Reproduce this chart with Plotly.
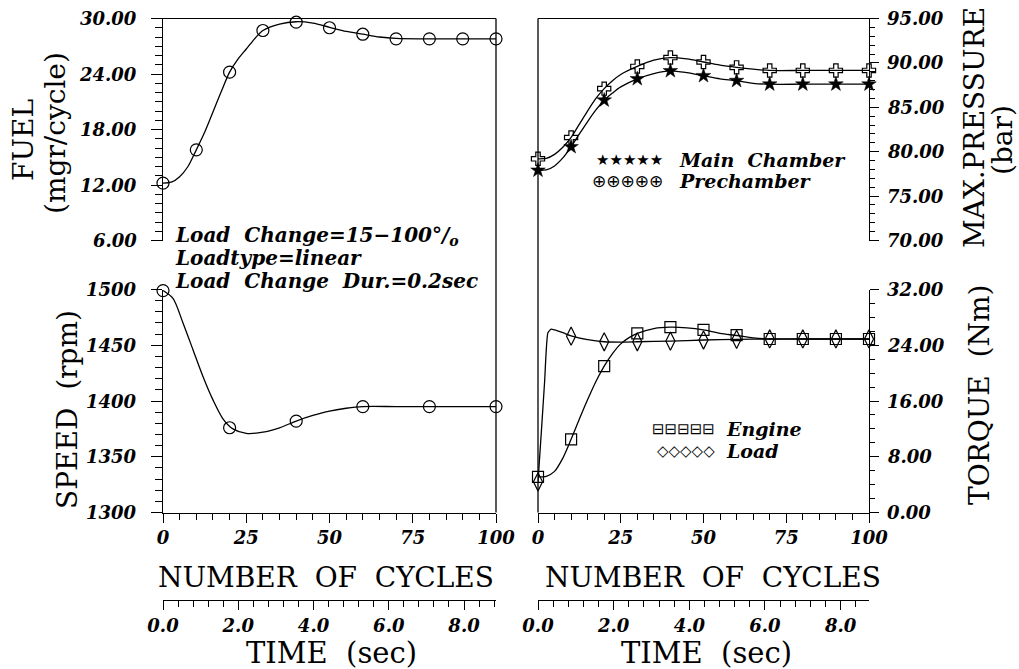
import plotly.graph_objects as go

W, H = 1019, 669

# ---------------- data ----------------
cycles_mark = [0, 10, 20, 30, 40, 50, 60, 70, 80, 90, 100]

fuel_mark = [12.2, 15.8, 24.2, 28.7, 29.6, 29.0, 28.3, 27.8, 27.8, 27.8, 27.8]
fuel_line_x = [0, 2.5, 5, 7.5, 10, 12.5, 15, 17.5, 20, 22.5, 25, 27.5, 30, 35, 40, 45, 50, 55, 60, 65, 70, 80, 90, 100]
fuel_line_y = [12.2, 12.3, 12.9, 14.0, 15.8, 17.7, 19.9, 22.1, 24.2, 25.6, 26.7, 27.8, 28.7, 29.4, 29.65, 29.5, 29.05, 28.6, 28.3, 28.0, 27.85, 27.8, 27.8, 27.8]

speed_mark_x = [0, 20, 40, 60, 80, 100]
speed_mark = [1499, 1376, 1382, 1395, 1395, 1395]
speed_line_x = [0, 3, 6, 9, 12, 15, 18, 21, 25, 30, 35, 40, 45, 50, 55, 60, 70, 80, 90, 100]
speed_line_y = [1499, 1492, 1470, 1446, 1422, 1401, 1384, 1375, 1371, 1372, 1376, 1382, 1387, 1391, 1393.5, 1395, 1395, 1395, 1395, 1395]

main_mark = [77.9, 80.55, 85.8, 88.2, 89.1, 88.55, 88.0, 87.6, 87.6, 87.6, 87.6]
main_line_x = [0, 2.5, 5, 7.5, 10, 12.5, 15, 17.5, 20, 22.5, 25, 30, 35, 40, 45, 50, 55, 60, 65, 70, 80, 90, 100]
main_line_y = [77.9, 77.95, 78.4, 79.3, 80.55, 82.0, 83.4, 84.7, 85.8, 86.6, 87.3, 88.2, 88.8, 89.1, 88.9, 88.55, 88.2, 88.0, 87.7, 87.6, 87.6, 87.6, 87.6]

pre_mark = [79.2, 81.6, 87.1, 89.6, 90.6, 90.1, 89.5, 89.15, 89.15, 89.15, 89.15]
pre_line_x = [0, 2.5, 5, 7.5, 10, 12.5, 15, 17.5, 20, 22.5, 25, 30, 35, 40, 45, 50, 55, 60, 65, 70, 80, 90, 100]
pre_line_y = [79.2, 79.25, 79.7, 80.5, 81.6, 83.1, 84.6, 86.0, 87.1, 88.0, 88.7, 89.6, 90.3, 90.6, 90.45, 90.1, 89.75, 89.5, 89.3, 89.15, 89.15, 89.15, 89.15]

engine_mark = [5.1, 10.5, 21.0, 25.7, 26.6, 26.2, 25.45, 24.9, 24.9, 24.9, 24.9]
engine_line_x = [0, 2.5, 5, 7.5, 10, 12.5, 15, 17.5, 20, 22.5, 25, 27.5, 30, 35, 40, 45, 50, 55, 60, 65, 70, 80, 90, 100]
engine_line_y = [5.1, 5.2, 5.9, 7.8, 10.5, 13.4, 16.2, 18.8, 21.0, 22.8, 24.2, 25.1, 25.7, 26.4, 26.6, 26.5, 26.2, 25.7, 25.4, 25.05, 24.9, 24.9, 24.9, 24.9]

load_mark = [4.4, 25.3, 24.5, 24.5, 24.6, 24.75, 24.85, 24.9, 24.9, 24.9, 24.9]
load_line_x = [0, 1, 2, 3, 4, 5, 7.5, 10, 15, 20, 25, 30, 40, 50, 60, 70, 80, 90, 100]
load_line_y = [4.4, 11.5, 18.8, 25.8, 26.3, 26.2, 25.8, 25.35, 24.8, 24.5, 24.45, 24.5, 24.6, 24.75, 24.85, 24.9, 24.9, 24.9, 24.9]

fuel_ticks = [6, 12, 18, 24, 30]
speed_ticks = [1300, 1350, 1400, 1450, 1500]
pressure_ticks = [70, 75, 80, 85, 90, 95]
torque_ticks = [0, 8, 16, 24, 32]
cycle_ticks = [0, 25, 50, 75, 100]
time_ticks = [0, 2, 4, 6, 8]
time_max_left = 8.85
time_max_right = 8.75

# ---------------- layout helpers ----------------
def fx(p):
    return p / W

def fy(p):
    return 1 - p / H

LX = [fx(163), fx(496)]
RX = [fx(538), fx(869)]
TOPY = [fy(240.5), fy(18.5)]
BOTY = [fy(512.5), fy(289.5)]
TIMEY = [fy(600), fy(598)]

BLACK = "black"
TICKFONT = dict(family="DejaVu Serif", size=18, color=BLACK, style="italic", weight="bold")
LW = 1.3

fig = go.Figure()


def add_line(x, y, xa, ya, smoothing=0.8):
    fig.add_trace(go.Scatter(x=x, y=y, xaxis=xa, yaxis=ya, mode="lines",
                             line=dict(color=BLACK, width=LW, shape="spline", smoothing=smoothing),
                             hoverinfo="skip", showlegend=False, cliponaxis=False))


def add_marks(x, y, xa, ya, symbol, size, lw=1.2):
    fig.add_trace(go.Scatter(x=x, y=y, xaxis=xa, yaxis=ya, mode="markers",
                             marker=dict(symbol=symbol, size=size, color=BLACK,
                                         line=dict(color=BLACK, width=lw)),
                             hoverinfo="skip", showlegend=False, cliponaxis=False))


add_line(fuel_line_x, fuel_line_y, "x", "y")
add_marks(cycles_mark, fuel_mark, "x", "y", "circle-open", 12)
add_line(speed_line_x, speed_line_y, "x2", "y2")
add_marks(speed_mark_x, speed_mark, "x2", "y2", "circle-open", 12)
add_line(main_line_x, main_line_y, "x3", "y3")
add_line(pre_line_x, pre_line_y, "x3", "y3")
add_marks(cycles_mark, main_mark, "x3", "y3", "star", 11, 0.5)
add_marks(cycles_mark, pre_mark, "x3", "y3", "cross-open", 11, 1.2)
add_line(engine_line_x, engine_line_y, "x4", "y4")
add_line(load_line_x, load_line_y, "x4", "y4", smoothing=0.5)
add_marks(cycles_mark, engine_mark, "x4", "y4", "square-open", 11)
add_marks(cycles_mark, load_mark, "x4", "y4", "diamond-tall-open", 13)
# invisible helpers so that the two time-axis subplots are created
for xa, ya in (("x5", "y5"), ("x6", "y6")):
    fig.add_trace(go.Scatter(x=time_ticks, y=[0.5] * len(time_ticks), xaxis=xa, yaxis=ya,
                             mode="markers", marker=dict(opacity=0, size=1),
                             hoverinfo="skip", showlegend=False))


def yax(domain, anchor, side, ticks, minor, tl):
    return dict(domain=domain, anchor=anchor, side=side, range=[ticks[0], ticks[-1]],
                tickmode="linear", tick0=ticks[0], dtick=ticks[1] - ticks[0],
                ticks="outside", ticklen=tl, tickwidth=LW, tickcolor=BLACK,
                minor=dict(dtick=minor, ticks="outside", ticklen=tl - 4, tickwidth=LW,
                           tickcolor=BLACK),
                showline=True, linecolor=BLACK, linewidth=LW, showgrid=False, zeroline=False,
                showticklabels=False, automargin=False)


def xax_top(domain, anchor):
    return dict(domain=domain, anchor=anchor, side="top", range=[0, 100], showline=True,
                linecolor=BLACK, linewidth=LW, ticks="", showticklabels=False,
                showgrid=False, zeroline=False, automargin=False)


def xax_bottom(domain, anchor, rng, ticks, minor, fmt):
    return dict(domain=domain, anchor=anchor, side="bottom", range=rng,
                tickmode="linear", tick0=ticks[0], dtick=ticks[1] - ticks[0],
                tickformat=fmt, ticks="outside", ticklen=9, tickwidth=LW, tickcolor=BLACK,
                minor=dict(dtick=minor, ticks="outside", ticklen=6, tickwidth=LW,
                           tickcolor=BLACK),
                showline=True, linecolor=BLACK, linewidth=LW, showgrid=False, zeroline=False,
                tickfont=TICKFONT, automargin=False)


hidden_y = dict(range=[0, 1], fixedrange=True, showline=False, showgrid=False,
                zeroline=False, ticks="", showticklabels=False, automargin=False)

fig.update_layout(
    width=W, height=H, margin=dict(l=0, r=0, t=0, b=0, pad=0, autoexpand=False),
    paper_bgcolor="white", plot_bgcolor="white", showlegend=False,
    xaxis=xax_top(LX, "y"),
    yaxis=yax(TOPY, "x", "left", fuel_ticks, 1, 11),
    xaxis2=xax_bottom(LX, "y2", [0, 100], cycle_ticks, 5, "d"),
    yaxis2=yax(BOTY, "x2", "left", speed_ticks, 10, 11),
    xaxis3=xax_top(RX, "y3"),
    yaxis3=yax(TOPY, "x3", "right", pressure_ticks, 1, 9),
    xaxis4=xax_bottom(RX, "y4", [0, 100], cycle_ticks, 5, "d"),
    yaxis4=yax(BOTY, "x4", "right", torque_ticks, 2, 9),
    xaxis5=xax_bottom(LX, "y5", [0, time_max_left], time_ticks, 0.4, ".1f"),
    yaxis5=dict(domain=TIMEY, anchor="x5", **hidden_y),
    xaxis6=xax_bottom(RX, "y6", [0, time_max_right], time_ticks, 0.4, ".1f"),
    yaxis6=dict(domain=TIMEY, anchor="x6", **hidden_y),
)

for xv in (LX[1], RX[0]):
    fig.add_shape(type="line", xref="paper", yref="paper", x0=xv, x1=xv,
                  y0=BOTY[0], y1=TOPY[1], line=dict(color=BLACK, width=LW))

# y tick labels placed through each axis' own scale
for ticks, yref, xpix, anchor, fmt in (
        (fuel_ticks, "y", 138, "right", "{:.2f}"),
        (speed_ticks, "y2", 138, "right", "{:d}"),
        (pressure_ticks, "y3", 886, "left", "{:.2f}"),
        (torque_ticks, "y4", 886, "left", "{:.2f}")):
    for v in ticks:
        fig.add_annotation(text=fmt.format(v), x=fx(xpix), y=v, xref="paper", yref=yref,
                           showarrow=False, font=TICKFONT, xanchor=anchor, yanchor="middle",
                           borderpad=0)

TITLE = dict(family="DejaVu Serif", size=28, color=BLACK)
ITAL = dict(family="DejaVu Serif", size=20, color=BLACK, style="italic", weight="bold")
LEGT = dict(family="DejaVu Serif", size=19, color=BLACK, style="italic", weight="bold")
SYM = dict(family="DejaVu Sans", size=15, color=BLACK)


def ann(text, x, y, font, angle=0, xanchor="center"):
    fig.add_annotation(text=text, x=fx(x), y=fy(y), xref="paper", yref="paper",
                       showarrow=False, font=font, textangle=angle,
                       xanchor=xanchor, yanchor="middle", borderpad=0)


ann("FUEL", 24, 140, TITLE, -90)
ann("(mgr/cycle)", 55, 133, TITLE, -90)
ann("SPEED  (rpm)", 67, 410, TITLE, -90)
ann("MAX.PRESSURE", 974, 128, TITLE, -90)
ann("(bar)", 1003, 140, TITLE, -90)
ann("TORQUE  (Nm)", 979, 395, TITLE, -90)

ann("NUMBER  OF  CYCLES", 326, 577, TITLE)
ann("NUMBER  OF  CYCLES", 713, 577, TITLE)
ann("TIME  (sec)", 331, 653, dict(TITLE, size=29))
ann("TIME  (sec)", 706, 653, dict(TITLE, size=29))

ann("Load  Change=15\u2212100\u00b0/<sub>o</sub>", 174, 236, ITAL, xanchor="left")
ann("Loadtype=linear", 174, 258, ITAL, xanchor="left")
ann("Load  Change  Dur.=0.2sec", 174, 281, ITAL, xanchor="left")

ann("\u2605\u2605\u2605\u2605\u2605", 664, 160, SYM, xanchor="right")
ann("Main  Chamber", 678, 160, LEGT, xanchor="left")
ann("\u2295\u2295\u2295\u2295\u2295", 664, 181, dict(SYM, size=17), xanchor="right")
ann("Prechamber", 678, 181, LEGT, xanchor="left")
ann("\u229f\u229f\u229f\u229f\u229f", 716, 429, SYM, xanchor="right")
ann("Engine", 725, 429, LEGT, xanchor="left")
ann("\u25c7\u25c7\u25c7\u25c7\u25c7", 716, 451, SYM, xanchor="right")
ann("Load", 725, 451, LEGT, xanchor="left")

fig.write_html("out.html", config=dict(displayModeBar=False))
